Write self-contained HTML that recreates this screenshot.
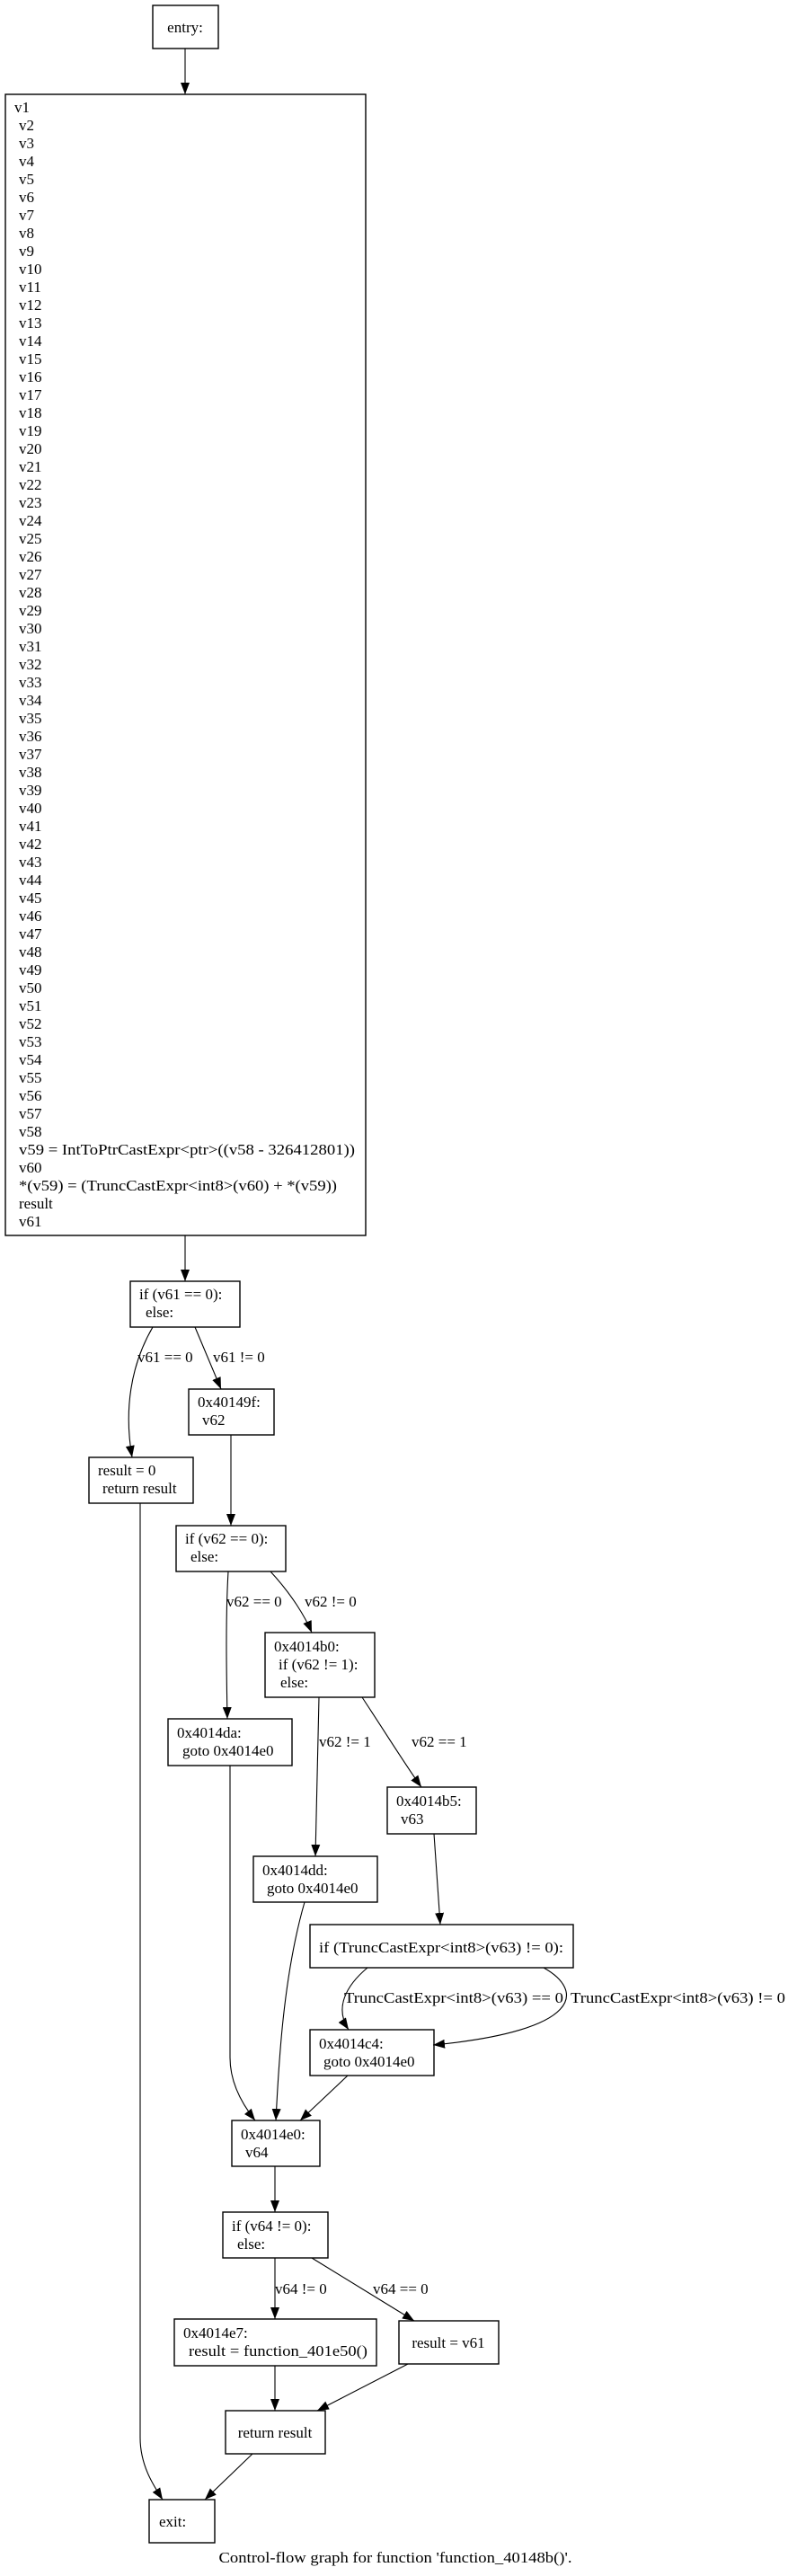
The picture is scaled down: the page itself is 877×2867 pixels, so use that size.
<!DOCTYPE html>
<html><head><meta charset="utf-8"><style>
html,body{margin:0;padding:0;background:#fff;}
svg{display:block;}
text{font-family:"Liberation Serif",serif;font-size:17px;fill:#000;}
rect{fill:#fff;stroke:#000;stroke-width:1.4;}
path.e{fill:none;stroke:#000;stroke-width:1.1;}
</style></head><body>
<svg width="877" height="2867" viewBox="0 0 877 2867" xmlns="http://www.w3.org/2000/svg">
<defs><marker id="a" markerWidth="13" markerHeight="10" refX="13" refY="5" orient="auto" markerUnits="userSpaceOnUse"><path d="M0,0 L13,5 L0,10 z" fill="#000"/></marker></defs>

<rect x="170" y="6" width="73" height="48"/>
<text x="206" y="36" text-anchor="middle">entry:</text>

<rect x="6" y="105" width="401" height="1270"/>
<g>
<text x="16" y="125">v1</text>
<text x="21" y="145">v2</text><text x="21" y="165">v3</text><text x="21" y="185">v4</text><text x="21" y="205">v5</text>
<text x="21" y="225">v6</text><text x="21" y="245">v7</text><text x="21" y="265">v8</text><text x="21" y="285">v9</text>
<text x="21" y="305">v10</text><text x="21" y="325">v11</text><text x="21" y="345">v12</text><text x="21" y="365">v13</text>
<text x="21" y="385">v14</text><text x="21" y="405">v15</text><text x="21" y="425">v16</text><text x="21" y="445">v17</text>
<text x="21" y="465">v18</text><text x="21" y="485">v19</text><text x="21" y="505">v20</text><text x="21" y="525">v21</text>
<text x="21" y="545">v22</text><text x="21" y="565">v23</text><text x="21" y="585">v24</text><text x="21" y="605">v25</text>
<text x="21" y="625">v26</text><text x="21" y="645">v27</text><text x="21" y="665">v28</text><text x="21" y="685">v29</text>
<text x="21" y="705">v30</text><text x="21" y="725">v31</text><text x="21" y="745">v32</text><text x="21" y="765">v33</text>
<text x="21" y="785">v34</text><text x="21" y="805">v35</text><text x="21" y="825">v36</text><text x="21" y="845">v37</text>
<text x="21" y="865">v38</text><text x="21" y="885">v39</text><text x="21" y="905">v40</text><text x="21" y="925">v41</text>
<text x="21" y="945">v42</text><text x="21" y="965">v43</text><text x="21" y="985">v44</text><text x="21" y="1005">v45</text>
<text x="21" y="1025">v46</text><text x="21" y="1045">v47</text><text x="21" y="1065">v48</text><text x="21" y="1085">v49</text>
<text x="21" y="1105">v50</text><text x="21" y="1125">v51</text><text x="21" y="1145">v52</text><text x="21" y="1165">v53</text>
<text x="21" y="1185">v54</text><text x="21" y="1205">v55</text><text x="21" y="1225">v56</text><text x="21" y="1245">v57</text>
<text x="21" y="1265">v58</text>
<text x="21" y="1285" textLength="374" lengthAdjust="spacingAndGlyphs">v59 = IntToPtrCastExpr&lt;ptr&gt;((v58 - 326412801))</text>
<text x="21" y="1305">v60</text>
<text x="21" y="1325" textLength="354" lengthAdjust="spacingAndGlyphs">*(v59) = (TruncCastExpr&lt;int8&gt;(v60) + *(v59))</text>
<text x="21" y="1345">result</text>
<text x="21" y="1365">v61</text>
</g>

<rect x="145" y="1426" width="122" height="51"/>
<text x="155" y="1446">if (v61 == 0):</text>
<text x="162" y="1466">else:</text>

<rect x="210" y="1546" width="95" height="51"/>
<text x="220" y="1566">0x40149f:</text>
<text x="225" y="1586">v62</text>

<rect x="99" y="1622" width="116" height="51"/>
<text x="109" y="1642">result = 0</text>
<text x="114" y="1662">return result</text>

<rect x="196" y="1698" width="122" height="51"/>
<text x="206" y="1718">if (v62 == 0):</text>
<text x="212" y="1738">else:</text>

<rect x="295" y="1817" width="122" height="72"/>
<text x="305" y="1838">0x4014b0:</text>
<text x="310" y="1858">if (v62 != 1):</text>
<text x="312" y="1878">else:</text>

<rect x="187" y="1913" width="138" height="52"/>
<text x="197" y="1934">0x4014da:</text>
<text x="203" y="1954">goto 0x4014e0</text>

<rect x="431" y="1989" width="99" height="52"/>
<text x="441" y="2010">0x4014b5:</text>
<text x="446" y="2030">v63</text>

<rect x="282" y="2066" width="138" height="51"/>
<text x="292" y="2087">0x4014dd:</text>
<text x="297" y="2107">goto 0x4014e0</text>

<rect x="345" y="2142" width="293" height="48"/>
<text x="355" y="2173" textLength="272" lengthAdjust="spacingAndGlyphs">if (TruncCastExpr&lt;int8&gt;(v63) != 0):</text>

<rect x="345" y="2259" width="138" height="51"/>
<text x="355" y="2280">0x4014c4:</text>
<text x="360" y="2300">goto 0x4014e0</text>

<rect x="258" y="2360" width="98" height="51"/>
<text x="268" y="2381">0x4014e0:</text>
<text x="273" y="2401">v64</text>

<rect x="248" y="2462" width="117" height="51"/>
<text x="258" y="2483">if (v64 != 0):</text>
<text x="264" y="2503">else:</text>

<rect x="194" y="2581" width="225" height="52"/>
<text x="204" y="2602">0x4014e7:</text>
<text x="210" y="2622" textLength="199" lengthAdjust="spacingAndGlyphs">result = function_401e50()</text>

<rect x="444" y="2583" width="111" height="48"/>
<text x="499" y="2613" text-anchor="middle">result = v61</text>

<rect x="251" y="2683" width="111" height="48"/>
<text x="306" y="2713" text-anchor="middle">return result</text>

<rect x="166" y="2782" width="73" height="48"/>
<text x="177" y="2812">exit:</text>

<text x="440" y="2852" text-anchor="middle" textLength="393" lengthAdjust="spacingAndGlyphs">Control-flow graph for function 'function_40148b()'.</text>

<path class="e" marker-end="url(#a)" d="M206,54 L206,105"/>
<path class="e" marker-end="url(#a)" d="M206,1375 L206,1426"/>
<path class="e" marker-end="url(#a)" d="M170,1477 C145,1520 138,1570 147,1622"/>
<path class="e" marker-end="url(#a)" d="M217,1477 L246,1546"/>
<path class="e" marker-end="url(#a)" d="M257,1597 L257,1698"/>
<path class="e" marker-end="url(#a)" d="M254,1749 C251,1800 252,1860 253,1913"/>
<path class="e" marker-end="url(#a)" d="M301,1749 C325,1775 340,1800 347,1817"/>
<path class="e" marker-end="url(#a)" d="M355,1889 L351,2066"/>
<path class="e" marker-end="url(#a)" d="M403,1889 C430,1930 455,1970 469,1989"/>
<path class="e" marker-end="url(#a)" d="M483,2041 L490,2142"/>
<path class="e" marker-end="url(#a)" d="M409,2190 C385,2210 372,2235 388,2259"/>
<path class="e" marker-end="url(#a)" d="M605,2190 C650,2215 650,2260 482,2276"/>
<path class="e" marker-end="url(#a)" d="M256,1965 L256,2290 C256,2320 272,2345 284,2360"/>
<path class="e" marker-end="url(#a)" d="M339,2117 C315,2200 310,2300 307,2360"/>
<path class="e" marker-end="url(#a)" d="M387,2310 L334,2360"/>
<path class="e" marker-end="url(#a)" d="M306,2411 L306,2462"/>
<path class="e" marker-end="url(#a)" d="M306,2513 L306,2581"/>
<path class="e" marker-end="url(#a)" d="M347,2513 L461,2583"/>
<path class="e" marker-end="url(#a)" d="M306,2633 L306,2683"/>
<path class="e" marker-end="url(#a)" d="M454,2631 L353,2683"/>
<path class="e" marker-end="url(#a)" d="M281,2731 L228,2782"/>
<path class="e" marker-end="url(#a)" d="M156,1673 L156,2713 C156,2745 172,2768 181,2782"/>

<text x="153" y="1516">v61 == 0</text>
<text x="237" y="1516">v61 != 0</text>
<text x="252" y="1788">v62 == 0</text>
<text x="339" y="1788">v62 != 0</text>
<text x="355" y="1944">v62 != 1</text>
<text x="458" y="1944">v62 == 1</text>
<text x="383" y="2229" textLength="244" lengthAdjust="spacingAndGlyphs">TruncCastExpr&lt;int8&gt;(v63) == 0</text>
<text x="635" y="2229" textLength="239" lengthAdjust="spacingAndGlyphs">TruncCastExpr&lt;int8&gt;(v63) != 0</text>
<text x="306" y="2553">v64 != 0</text>
<text x="415" y="2553">v64 == 0</text>
</svg>
</body></html>
